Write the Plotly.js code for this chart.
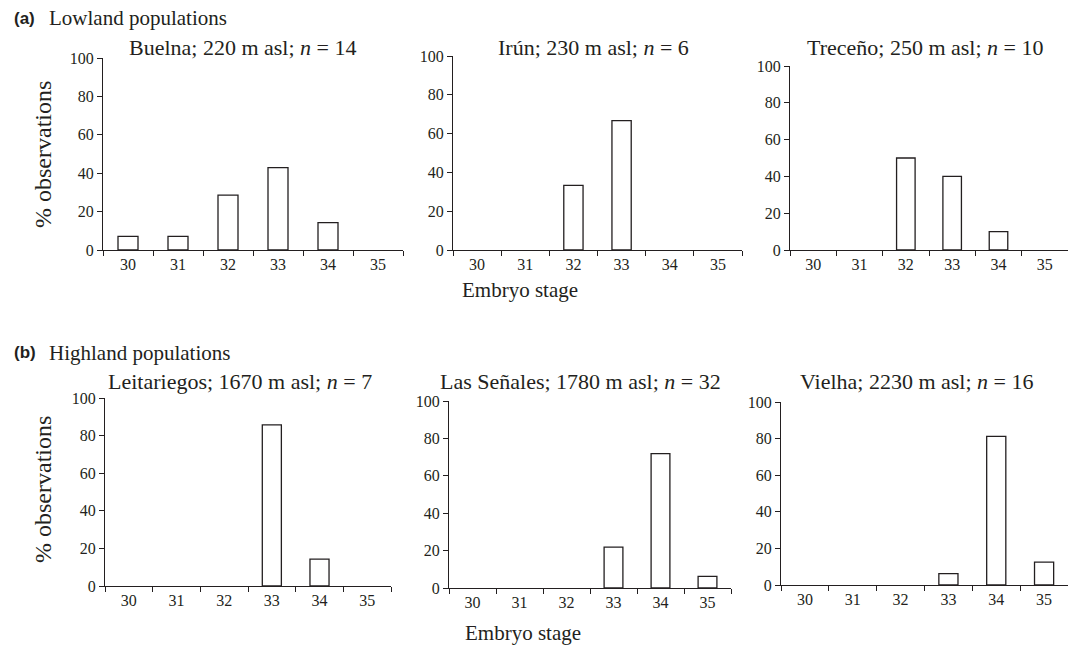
<!DOCTYPE html>
<html>
<head>
<meta charset="utf-8">
<script src="https://cdn.plot.ly/plotly-3.0.1.min.js"></script>
<style>html,body{margin:0;padding:0;background:#fff;}#chart{width:1069px;height:645px;}</style>
</head>
<body>
<div id="chart"></div>
<script>
// ---- Data ----
const stages = ['30', '31', '32', '33', '34', '35'];
const panelTitles = [
  'Buelna; 220 m asl; <i>n</i> = 14',
  'Irún; 230 m asl; <i>n</i> = 6',
  'Treceño; 250 m asl; <i>n</i> = 10',
  'Leitariegos; 1670 m asl; <i>n</i> = 7',
  'Las Señales; 1780 m asl; <i>n</i> = 32',
  'Vielha; 2230 m asl; <i>n</i> = 16'
];
const buelna      = [7.14, 7.14, 28.57, 42.86, 14.29, 0];
const irun        = [0, 0, 33.33, 66.67, 0, 0];
const treceno     = [0, 0, 50, 40, 10, 0];
const leitariegos = [0, 0, 0, 85.71, 14.29, 0];
const lasSenales  = [0, 0, 0, 21.88, 71.88, 6.25];
const vielha      = [0, 0, 0, 6.25, 81.25, 12.5];
const yTicks = [0, 20, 40, 60, 80, 100];
const groupLabels = ['Lowland populations', 'Highland populations'];
const groupTags = ['(a)', '(b)'];
const yTitle = '% observations';
const xTitle = 'Embryo stage';

const series = [buelna, irun, treceno, leitariegos, lasSenales, vielha];

// ---- Layout helpers (pixel boxes) ----
const W = 1069, H = 645;
const boxes = [
  {x0: 103, x1: 403, y0: 58,  y1: 250},
  {x0: 453, x1: 742, y0: 56,  y1: 250},
  {x0: 790, x1: 1068, y0: 66, y1: 250},
  {x0: 105, x1: 391, y0: 398, y1: 586},
  {x0: 449, x1: 731, y0: 401, y1: 588},
  {x0: 781, x1: 1068, y0: 402, y1: 585}
];
const titlePos = [
  {x: 243, y: 47}, {x: 593, y: 47}, {x: 925, y: 47},
  {x: 240, y: 381}, {x: 580, y: 381}, {x: 917, y: 381}
];

const serif = 'Liberation Serif';
const sans = 'Liberation Sans';
const ink = '#231f20';

const traces = [];
const layout = {
  width: W, height: H,
  margin: {l: 0, r: 0, t: 0, b: 0},
  paper_bgcolor: '#fff', plot_bgcolor: '#fff',
  showlegend: false,
  font: {family: serif, color: ink, size: 16},
  annotations: []
};

series.forEach((vals, i) => {
  const k = i + 1;
  const xa = 'x' + (k === 1 ? '' : k);
  const ya = 'y' + (k === 1 ? '' : k);
  traces.push({
    type: 'bar', x: stages, y: vals.map(v => (v === 0 ? null : v)), xaxis: xa, yaxis: ya,
    width: 0.4,
    marker: {color: '#ffffff', line: {color: ink, width: 1.3}},
    hoverinfo: 'x+y'
  });
  const b = boxes[i];
  layout['xaxis' + (k === 1 ? '' : k)] = {
    domain: [b.x0 / W, b.x1 / W], anchor: ya,
    type: 'category', range: [-0.5, 5.5],
    tickson: 'boundaries', ticks: 'outside', ticklen: 5, tickwidth: 1.2, tickcolor: ink,
    showline: true, linecolor: ink, linewidth: 1.3,
    showgrid: false, zeroline: false,
    tickfont: {family: serif, size: 16, color: ink}, fixedrange: true
  };
  layout['yaxis' + (k === 1 ? '' : k)] = {
    domain: [1 - b.y1 / H, 1 - b.y0 / H], anchor: xa,
    range: [0, 100], tickvals: yTicks, ticktext: yTicks.map(String),
    ticks: 'outside', ticklen: 5, tickwidth: 1.2, tickcolor: ink,
    showline: true, linecolor: ink, linewidth: 1.3,
    showgrid: false, zeroline: false,
    tickfont: {family: serif, size: 16, color: ink}, fixedrange: true
  };
  layout.annotations.push({
    xref: 'paper', yref: 'paper', x: titlePos[i].x / W, y: 1 - titlePos[i].y / H,
    xanchor: 'center', yanchor: 'middle', showarrow: false,
    text: panelTitles[i], font: {family: serif, size: 22, color: ink}
  });
});

// group tags and labels
[[12, 18], [12, 353]].forEach((p, j) => {
  layout.annotations.push({
    xref: 'paper', yref: 'paper', x: p[0] / W, y: 1 - p[1] / H,
    xanchor: 'left', yanchor: 'middle', showarrow: false,
    text: '<b>' + groupTags[j] + '</b>', font: {family: sans, size: 17, color: ink}
  });
  layout.annotations.push({
    xref: 'paper', yref: 'paper', x: (p[0] + 35) / W, y: 1 - p[1] / H,
    xanchor: 'left', yanchor: 'middle', showarrow: false,
    text: groupLabels[j], font: {family: serif, size: 21, color: ink}
  });
});

// y-axis titles
[[43, 155], [43, 490]].forEach(p => {
  layout.annotations.push({
    xref: 'paper', yref: 'paper', x: p[0] / W, y: 1 - p[1] / H,
    xanchor: 'center', yanchor: 'middle', showarrow: false, textangle: -90,
    text: yTitle, font: {family: serif, size: 24, color: ink}
  });
});
// x-axis titles
[[520, 290], [523, 633]].forEach(p => {
  layout.annotations.push({
    xref: 'paper', yref: 'paper', x: p[0] / W, y: 1 - p[1] / H,
    xanchor: 'center', yanchor: 'middle', showarrow: false,
    text: xTitle, font: {family: serif, size: 21, color: ink}
  });
});

Plotly.newPlot('chart', traces, layout, {displayModeBar: false});
</script>
</body>
</html>
